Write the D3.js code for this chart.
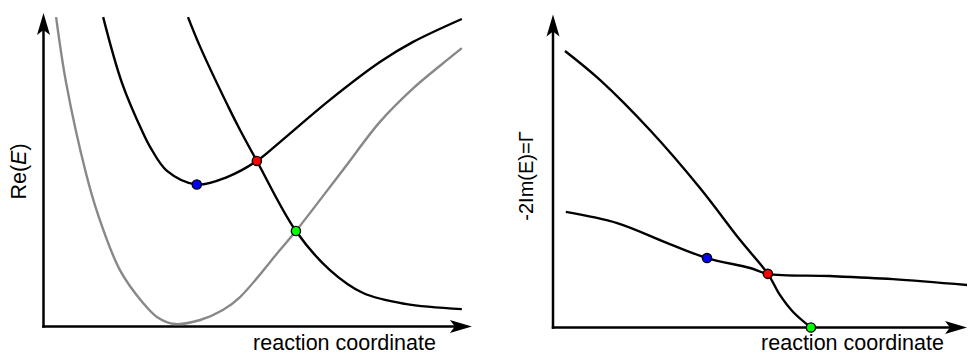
<!DOCTYPE html>
<html>
<head>
<meta charset="utf-8">
<script src="https://cdn.jsdelivr.net/npm/d3@7"></script>
<style>
  body { margin: 0; background: #fff; }
  svg { display: block; }
  text { font-family: "Liberation Sans", Arial, sans-serif; fill: #000; }
</style>
</head>
<body>
<svg id="chart" width="968" height="353"></svg>
<script>
// ---- Left panel: Re(E) along the reaction coordinate ----
// neutral ground state (grey)
const reNeutral = [[0.30,9.98],[0.54,7.85],[1.01,4.95],[1.30,3.60],[1.82,1.82],[2.37,0.76],[2.70,0.31],
  [3.13,0.08],[3.73,0.21],[4.27,0.53],[4.68,0.95],[5.63,2.47],[6.01,3.08],[7.13,5.05],[8.01,6.60],
  [8.80,7.68],[9.44,8.41],[9.96,8.98]];
// resonance state with a minimum
const reResonance = [[1.42,9.98],[1.87,7.85],[2.37,6.24],[2.54,5.79],[2.94,5.02],[3.65,4.58],[4.37,4.82],
  [5.08,5.34],[5.63,5.95],[6.82,7.31],[8.01,8.53],[8.80,9.18],[9.96,9.92]];
// dissociative state
const reDissociative = [[3.44,9.98],[3.73,9.02],[4.44,6.98],[4.68,6.34],[5.08,5.34],[6.01,3.08],
  [6.82,1.82],[7.61,1.08],[8.61,0.73],[9.96,0.56]];

// ---- Right panel: width Γ = -2Im(E) ----
const gammaSteep = [[0.29,8.92],[1.14,7.98],[2.34,6.37],[3.55,4.50],[4.52,2.82],[5.19,1.73],
  [5.48,1.05],[5.80,0.50],[6.23,0]];
const gammaFlat = [[0.31,3.73],[1.55,3.37],[2.75,2.73],[3.72,2.24],[4.76,1.92],[5.19,1.73],
  [6.69,1.66],[8.21,1.56],[10.0,1.37]];

// marked points: minimum (blue), crossing (red), threshold (green)
const markerColors = ["#0000ff", "#ff0000", "#00ff00"];
const reMarkers = [[3.65,4.58],[5.08,5.34],[6.01,3.08]];
const gammaMarkers = [[3.72,2.24],[5.19,1.73],[6.23,0]];

const xLabel = "reaction coordinate";

const svg = d3.select("#chart");

function arrowHead(g, x, y, dir) {
  // stealth-style arrow head pointing right ("r") or up ("u")
  const p = "M0,0 L-22,-6.5 L-17,0 L-22,6.5 Z";
  g.append("path").attr("d", p)
    .attr("transform", `translate(${x},${y}) rotate(${dir === "u" ? -90 : 0})`)
    .attr("fill", "#000");
}

function panel(opts) {
  const g = svg.append("g");
  const x = d3.scaleLinear().domain([0, 10]).range(opts.xRange);
  const y = d3.scaleLinear().domain([0, 10]).range(opts.yRange);
  const x0 = x(0), y0 = y(0);
  const xt = x(opts.xTip), yt = y(opts.yTip);

  // axes with arrow heads
  g.append("line").attr("x1", x0 - 1.2).attr("y1", y0).attr("x2", xt - 16).attr("y2", y0)
    .attr("stroke", "#000").attr("stroke-width", 2.5);
  g.append("line").attr("x1", x0).attr("y1", y0 + 1.2).attr("x2", x0).attr("y2", yt + 16)
    .attr("stroke", "#000").attr("stroke-width", 2.5);
  arrowHead(g, xt, y0, "r");
  arrowHead(g, x0, yt, "u");

  const line = d3.line().x(d => x(d[0])).y(d => y(d[1])).curve(d3.curveCatmullRom.alpha(0.5));
  opts.series.forEach(s => {
    g.append("path").datum(s.data).attr("d", line)
      .attr("fill", "none").attr("stroke", s.color).attr("stroke-width", 2.4)
      .attr("stroke-linejoin", "round").attr("stroke-linecap", "butt");
  });

  g.selectAll("circle.m").data(opts.markers).join("circle")
    .attr("class", "m")
    .attr("cx", d => x(d[0])).attr("cy", d => y(d[1])).attr("r", 4.6)
    .attr("fill", (d, i) => markerColors[i]).attr("stroke", "#000").attr("stroke-width", 1.4);

  g.append("text").attr("x", opts.xLabelX).attr("y", 349.5).attr("text-anchor", "middle")
    .attr("font-size", 21.5).text(xLabel);

  const yl = g.append("text")
    .attr("transform", `translate(${opts.yLabelPos[0]},${opts.yLabelPos[1]}) rotate(-90)`)
    .attr("text-anchor", "middle").attr("font-size", opts.yLabelSize);
  opts.yLabel(yl);
}

panel({
  xRange: [43.5, 463.5], yRange: [326.5, 16.5], xTip: 10.2, yTip: 10.11,
  series: [
    { data: reNeutral, color: "#888888" },
    { data: reResonance, color: "#000" },
    { data: reDissociative, color: "#000" }
  ],
  markers: reMarkers,
  xLabelX: 344.5,
  yLabelPos: [25.5, 171.5], yLabelSize: 21.5,
  yLabel: t => {
    t.append("tspan").text("Re(");
    t.append("tspan").attr("font-style", "italic").text("E");
    t.append("tspan").text(")");
  }
});

panel({
  xRange: [553, 967], yRange: [327.5, 17.5], xTip: 10.0, yTip: 10.1,
  series: [
    { data: gammaSteep, color: "#000" },
    { data: gammaFlat, color: "#000" }
  ],
  markers: gammaMarkers,
  xLabelX: 852.5,
  yLabelPos: [533, 176], yLabelSize: 20,
  yLabel: t => t.text("-2Im(E)=Γ")
});
</script>
</body>
</html>
